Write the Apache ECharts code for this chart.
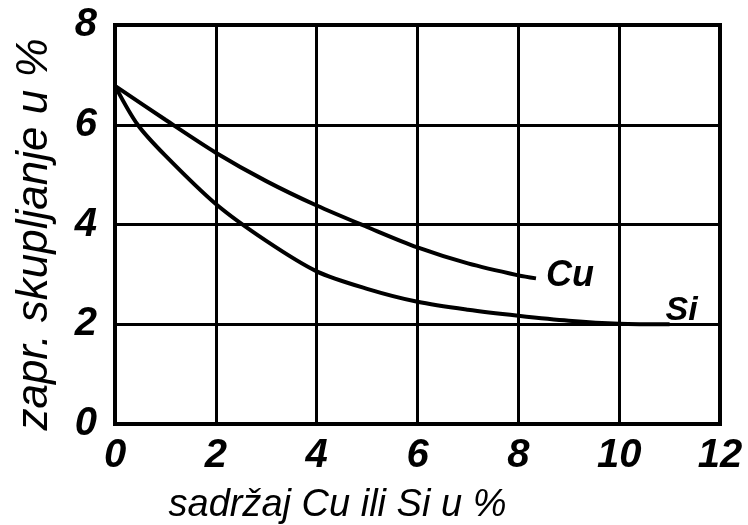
<!DOCTYPE html>
<html>
<head>
<meta charset="utf-8">
<script src="https://cdn.jsdelivr.net/npm/echarts@6/dist/echarts.min.js"></script>
<style>
  html, body { margin: 0; padding: 0; background: #fff; }
  #chart { width: 748px; height: 525px; }
</style>
</head>
<body>
<div id="chart"></div>
<script>
// values: [sadrzaj %, skupljanje %]
const cuPoints = [[0, 6.78], [1, 6.1], [2, 5.44], [3, 4.87], [4, 4.38], [5, 3.95], [6, 3.54], [7, 3.22], [8, 2.98], [8.35, 2.92]];
const siPoints = [[0, 6.78], [0.45, 6.0], [1, 5.38], [2, 4.41], [3, 3.67], [4, 3.06], [5, 2.71], [6, 2.45], [7, 2.29], [8, 2.17], [9, 2.07], [10, 2.01], [11, 2.0]];
const xTicks = [0, 2, 4, 6, 8, 10, 12];
const yTicks = [0, 2, 4, 6, 8];
const xTitle = 'sadržaj Cu ili Si u %';
const yTitle = 'zapr. skupljanje u %';

const FONT = '"Liberation Sans", Arial, sans-serif';

const chart = echarts.init(document.getElementById('chart'), null, { renderer: 'canvas' });

const tickLabel = {
  fontFamily: FONT,
  fontStyle: 'italic',
  fontWeight: 'bold',
  fontSize: 40,
  color: '#000'
};

const option = {
  animation: false,
  grid: {
    left: 115, right: 28, top: 25, bottom: 101,
    outerBoundsMode: 'none',
    containLabel: false,
    show: true,
    borderColor: '#000',
    borderWidth: 4,
    backgroundColor: '#fff'
  },
  xAxis: {
    type: 'value',
    min: xTicks[0],
    max: xTicks[xTicks.length - 1],
    interval: 2,
    name: xTitle,
    nameLocation: 'middle',
    nameGap: 62,
    nameTextStyle: {
      fontFamily: FONT, fontStyle: 'italic', fontSize: 38, color: '#000',
      padding: [0, 160, 0, 0]
    },
    axisLine: { show: true, lineStyle: { color: '#000', width: 4 } },
    axisTick: { show: false },
    axisLabel: Object.assign({ margin: 12 }, tickLabel),
    splitLine: { show: true, lineStyle: { color: '#000', width: 3 } }
  },
  yAxis: {
    type: 'value',
    min: yTicks[0],
    max: yTicks[yTicks.length - 1],
    interval: 2,
    name: yTitle,
    nameLocation: 'middle',
    nameGap: 58,
    nameTextStyle: {
      fontFamily: FONT, fontStyle: 'italic', fontSize: 44, color: '#000',
      padding: [0, 20, 0, 0]
    },
    axisLine: { show: true, lineStyle: { color: '#000', width: 4 } },
    axisTick: { show: false },
    axisLabel: Object.assign({ margin: 18 }, tickLabel),
    splitLine: { show: true, lineStyle: { color: '#000', width: 3 } }
  },
  series: [
    {
      name: 'Cu',
      type: 'line',
      smooth: 0.3,
      symbol: 'none',
      data: cuPoints,
      lineStyle: { color: '#000', width: 4 },
      endLabel: {
        show: true,
        formatter: 'Cu',
        distance: 10,
        offset: [0, -2],
        fontFamily: FONT, fontStyle: 'italic', fontWeight: 'bold', fontSize: 36, color: '#000'
      }
    },
    {
      name: 'Si',
      type: 'line',
      smooth: 0.3,
      symbol: 'none',
      data: siPoints,
      lineStyle: { color: '#000', width: 4 },
      endLabel: {
        show: true,
        formatter: 'Si',
        distance: 0,
        offset: [-4, -14],
        fontFamily: FONT, fontStyle: 'italic', fontWeight: 'bold', fontSize: 34, color: '#000'
      }
    }
  ]
};

chart.setOption(option);
</script>
</body>
</html>
